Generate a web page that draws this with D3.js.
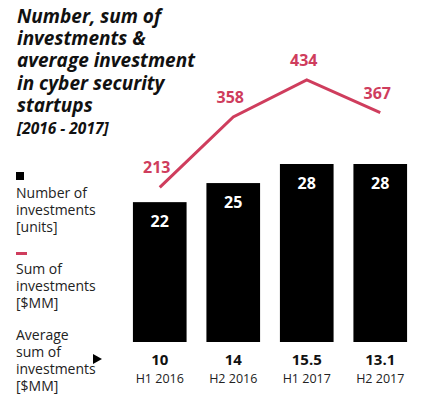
<!DOCTYPE html>
<html>
<head>
<meta charset="utf-8">
<script src="https://cdn.jsdelivr.net/npm/d3@7"></script>
<style>
  body { margin: 0; background: #fff; }
  svg text { font-family: "Open Sans", sans-serif; }
</style>
</head>
<body>
<svg id="chart"></svg>
<script>
const periods = ["H1 2016", "H2 2016", "H1 2017", "H2 2017"]
const numInvestments = [22, 25, 28, 28]
const sumInvestments = [213, 358, 434, 367]
const avgInvestments = ["10", "14", "15.5", "13.1"]

const titleLines = ["Number, sum of", "investments &", "average investment", "in cyber security", "startups"]
const subtitle = "[2016 - 2017]"
const legendBar = ["Number of", "investments", "[units]"]
const legendLine = ["Sum of", "investments", "[$MM]"]
const legendAvg = ["Average", "sum of", "investments", "[$MM]"]

const red = "#cf3d5d"
const width = 429, height = 400

const svg = d3.select("#chart").attr("width", width).attr("height", height)

const x = d3.scaleBand().domain(periods).range([123, 417]).paddingInner(0.27).paddingOuter(0.135)
const yBar = d3.scaleLinear().domain([0, 28]).range([342, 164])
const yLine = d3.scaleLinear().domain([0, 434]).range([291, 80])

// title, one text per line
svg.append("g").selectAll("text")
    .data(titleLines)
    .enter().append("text")
    .attr("x", 17).attr("y", (d, i) => 23 + i * 22.2)
    .attr("font-size", 19).attr("font-weight", 700).attr("font-style", "italic")
    .attr("fill", "#111")
    .text(d => d)
svg.append("text")
    .attr("x", 17).attr("y", 134)
    .attr("font-size", 15.5).attr("font-weight", 700).attr("font-style", "italic")
    .attr("fill", "#111")
    .text(subtitle)

// bars
svg.append("g").selectAll("rect")
    .data(numInvestments)
    .enter().append("rect")
    .attr("x", (d, i) => x(periods[i]))
    .attr("y", d => yBar(d))
    .attr("width", x.bandwidth())
    .attr("height", d => yBar(0) - yBar(d))
    .attr("fill", "#000")

svg.append("g").selectAll("text")
    .data(numInvestments)
    .enter().append("text")
    .attr("x", (d, i) => x(periods[i]) + x.bandwidth() / 2)
    .attr("y", d => yBar(d) + 25)
    .attr("text-anchor", "middle")
    .attr("font-size", 16).attr("font-weight", 700)
    .attr("fill", "#fff")
    .text(d => d)

// line
const cx = (d, i) => x(periods[i]) + x.bandwidth() / 2
const line = d3.line().x(cx).y(d => yLine(d))
svg.append("path")
    .datum(sumInvestments)
    .attr("d", line)
    .attr("fill", "none")
    .attr("stroke", red)
    .attr("stroke-width", 3)

svg.append("g").selectAll("text")
    .data(sumInvestments)
    .enter().append("text")
    .attr("x", (d, i) => cx(d, i) - 3)
    .attr("y", d => yLine(d) - 14)
    .attr("text-anchor", "middle")
    .attr("font-size", 16).attr("font-weight", 700)
    .attr("fill", red)
    .text(d => d)

// averages + categories
svg.append("g").selectAll("text")
    .data(avgInvestments)
    .enter().append("text")
    .attr("x", (d, i) => cx(d, i))
    .attr("y", 365)
    .attr("text-anchor", "middle")
    .attr("font-size", 15).attr("font-weight", 700)
    .attr("fill", "#111")
    .text(d => d)

svg.append("g").selectAll("text")
    .data(periods)
    .enter().append("text")
    .attr("x", d => x(d) + x.bandwidth() / 2)
    .attr("y", 383)
    .attr("text-anchor", "middle")
    .attr("font-size", 12.5)
    .attr("fill", "#222")
    .text(d => d)

// legend
function legendText(lines, y0) {
    svg.append("g").selectAll("text")
        .data(lines)
        .enter().append("text")
        .attr("x", 16).attr("y", (d, i) => y0 + i * 17)
        .attr("font-size", 14).attr("fill", "#222")
        .text(d => d)
}
svg.append("rect").attr("x", 16).attr("y", 172).attr("width", 8).attr("height", 8).attr("fill", "#000")
legendText(legendBar, 198)
svg.append("rect").attr("x", 16).attr("y", 252).attr("width", 11).attr("height", 3).attr("fill", red)
legendText(legendLine, 274)
legendText(legendAvg, 340)
svg.append("path")
    .attr("d", "M93,354 L102,359 L93,364 Z")
    .attr("fill", "#000")
</script>
</body>
</html>
